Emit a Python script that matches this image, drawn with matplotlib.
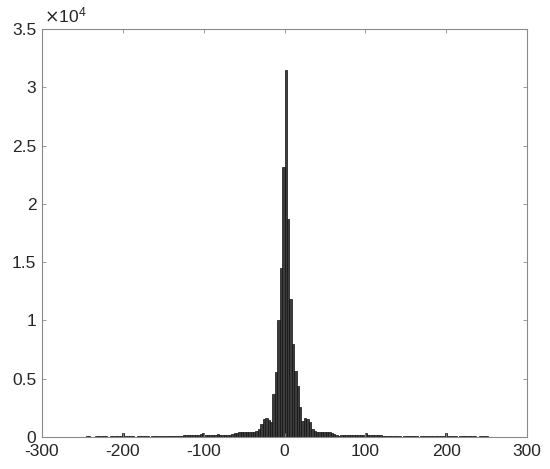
import matplotlib
matplotlib.use("Agg")
import matplotlib.pyplot as plt
import numpy as np
from matplotlib.ticker import FuncFormatter

# bin edges: -255 .. 255 in steps of 3 (170 bins)
bin_width = 3
bin_left = -255

left_tail = [0, 40, 0, 50, 60, 40, 0, 50, 60, 70, 50, 60, 40, 60, 70, 60, 70, 60,
             380, 70, 60, 80, 70, 0, 60, 70, 80, 60, 70, 0, 70, 80, 60, 90, 70]
left_mid = [80, 90, 70, 100, 90, 110, 120, 100, 140, 150, 130, 160, 180, 200, 190,
            230, 380, 210, 180, 160, 170, 200, 220, 180, 150, 130, 150, 180, 250,
            330, 380, 420, 440, 450, 430, 460, 470, 450, 480]
center = [700, 1100, 1550, 1650, 1500, 1300, 3700, 5600, 10000, 14500, 23200,
          31500, 18700, 11800, 8000, 5700, 4400, 2600, 1350, 1650, 1550, 1250, 650]
right_mid = [480, 470, 460, 450, 470, 440, 420, 380, 250, 150, 120, 130, 140, 160,
             180, 200, 170, 150, 180, 190, 170, 380, 200, 190, 170, 150, 140, 130,
             110, 90, 80]
right_tail = [70, 60, 80, 70, 60, 0, 70, 60, 80, 70, 60, 70, 0, 60, 70, 80, 60, 70,
              60, 70, 60, 80, 70, 380, 60, 70, 80, 60, 0, 70, 60, 70, 60, 80, 60,
              70, 0, 60, 70, 50, 60, 40]

counts = np.array(left_tail + left_mid + center + right_mid + right_tail, dtype=float)
edges = bin_left + bin_width * np.arange(len(counts) + 1)

x_ticks = [-300, -200, -100, 0, 100, 200, 300]
y_ticks = [0, 5000, 10000, 15000, 20000, 25000, 30000, 35000]

plt.rcParams['font.family'] = ['Liberation Sans', 'DejaVu Sans']
fig = plt.figure(figsize=(5.5, 4.69), dpi=100)
ax = fig.add_axes([42 / 550, 1 - 437 / 469, (527 - 42) / 550, (437 - 29) / 469])

ax.bar(edges[:-1], counts, width=bin_width, align='edge',
       facecolor='#3c3c3c', edgecolor='#111111', linewidth=0.5)

ax.set_xlim(-300, 300)
ax.set_ylim(0, 35000)
ax.set_xticks(x_ticks)
ax.set_yticks(y_ticks)
ax.xaxis.set_major_formatter(FuncFormatter(lambda v, p: f"{v:g}"))
ax.yaxis.set_major_formatter(FuncFormatter(lambda v, p: f"{v / 1e4:g}"))

for s in ax.spines.values():
    s.set_color('#8a8a8a')
    s.set_linewidth(0.8)
ax.tick_params(direction='in', length=3, width=0.6, color='#8a8a8a',
               labelcolor='#262626', labelsize=12.5, top=True, right=True)
ax.tick_params(axis='x', pad=5)
ax.tick_params(axis='y', pad=4)

fig.text(44 / 550, 1 - 15 / 469, r'$\times\mathregular{10^{4}}$', fontsize=12.5,
         color='#262626', ha='left', va='center')

fig.savefig('out.png', dpi=100)
